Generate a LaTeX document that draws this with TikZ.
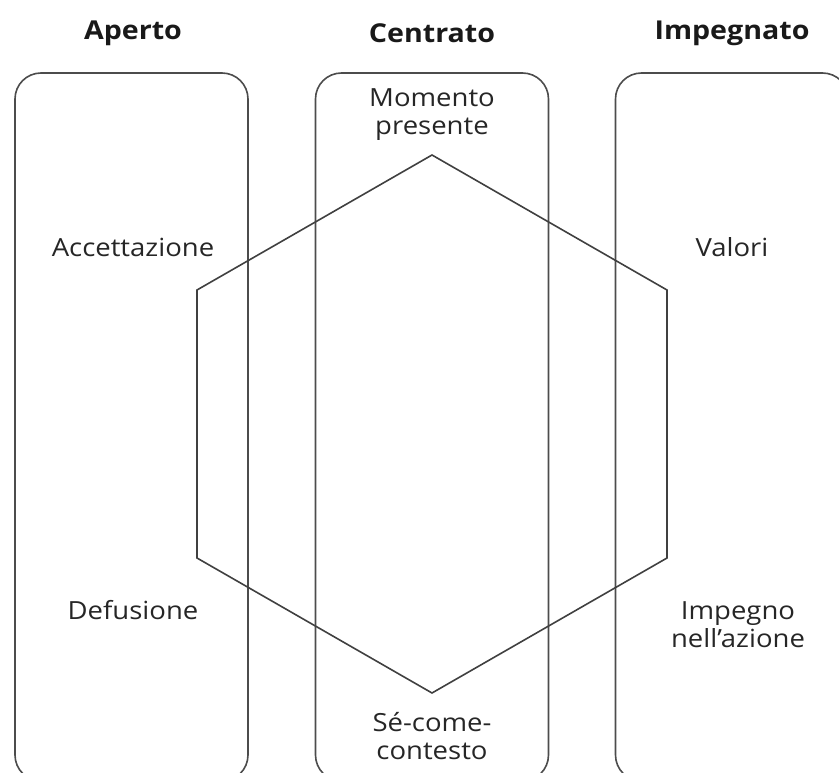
\documentclass[tikz,border=0pt]{standalone}
\usepackage{fontspec}
\setmainfont{Open Sans}[FakeStretch=1.1]

\tikzset{
  colbox/.style={draw=black!70, line width=1.6pt, rounded corners=26pt,
    minimum width=233pt, minimum height=708pt},
  term/.style={align=center, text=black!85, font=\fontsize{25}{28}\selectfont},
  head/.style={text=black!90, font=\bfseries\fontsize{26}{28}\selectfont}
}

\begin{document}
\begin{tikzpicture}[x=1pt,y=-1pt]
\useasboundingbox (0,0) rectangle (839,773);
\clip (0,0) rectangle (839,773);

% the three columns
\node [colbox] (aperto) at (131.5,427) {};
\node [colbox] (centrato) at (432,427) {};
\node [colbox] (impegnato) at (732,427) {};

\node [head] (h1) at (133,33) {Aperto};
\node [head] (h2) at (432,33) {Centrato};
\node [head] (h3) at (732,33) {Impegnato};

% hexagon
\coordinate (top) at (432,155);
\coordinate (ul) at (197,290);
\coordinate (ll) at (197,558);
\coordinate (bot) at (432,693);
\coordinate (lr) at (667,558);
\coordinate (ur) at (667,290);
\draw [black!75, line width=1.6pt] (top) -- (ul) -- (ll) -- (bot) -- (lr) -- (ur) -- cycle;

% the six processes
\node [term] (presente) at (432,115) {Momento\\presente};
\node [term] (accettazione) at (133,247) {Accettazione};
\node [term] (valori) at (732,247) {Valori};
\node [term] (defusione) at (133,610) {Defusione};
\node [term] (impegno) at (738,625) {Impegno\\nell’azione};
\node [term] (contesto) at (432,736) {Sé-come-\\contesto};
\end{tikzpicture}
\end{document}
